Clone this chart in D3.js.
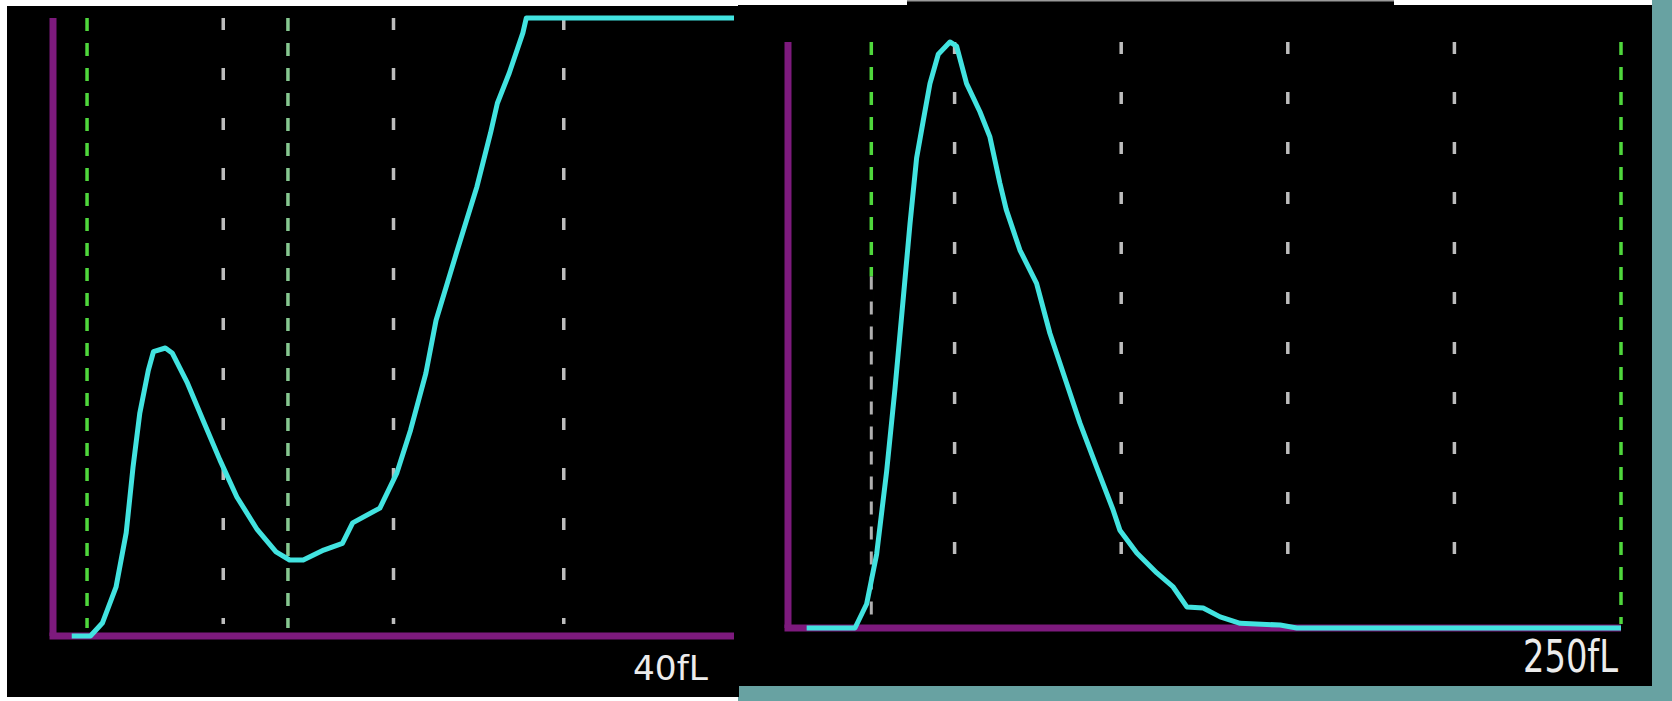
<!DOCTYPE html>
<html>
<head>
<meta charset="utf-8">
<script src="https://cdnjs.cloudflare.com/ajax/libs/d3/7.8.5/d3.min.js"></script>
<style>
  body { margin: 0; background: #fff; }
  svg { display: block; }
</style>
</head>
<body>
<div id="container"></div>
<script>
// PLT histogram (0-40 fL)
const pltSize  = [1.1, 2.2, 2.9, 3.7, 4.3, 4.7, 5.1, 5.6, 5.9, 6.6, 7.0, 7.9, 8.8, 9.8, 10.8, 12.0, 13.1, 13.9, 14.7, 15.9, 17.0, 17.6, 19.2, 20.2, 21.0, 21.9, 22.5, 23.7, 24.9, 25.7, 26.1, 26.8, 27.6, 27.8, 40];
const pltCount = [0, 0, 2.1, 7.9, 16.7, 27.3, 36.1, 43.0, 46.0, 46.6, 45.8, 40.9, 35.0, 28.5, 22.5, 17.2, 13.6, 12.3, 12.3, 13.9, 15.0, 18.3, 20.7, 26.4, 33.3, 42.5, 51.1, 62.0, 72.7, 81.4, 86.2, 91.1, 97.6, 100, 100];
const pltGrid = [10, 20, 30];
const pltDisc = [2, 13.8];
const pltLabel = "40fL";

// RBC histogram (0-250 fL)
const rbcSize  = [5.6, 20.1, 23.6, 26.6, 29.6, 32.1, 34.6, 36.6, 38.6, 40.6, 42.6, 45.1, 48.6, 50.6, 53.6, 57.6, 60.6, 63.6, 65.5, 69.6, 74.6, 78.6, 83.6, 87.6, 92.6, 97.6, 99.6, 104.7, 110.7, 115.6, 119.7, 124.6, 129.7, 135.7, 147.7, 152.7, 250];
const rbcCount = [0, 0, 4.1, 12.6, 26.7, 40.8, 56.3, 68.9, 80.2, 86.6, 92.9, 97.9, 100, 99.3, 92.9, 88.1, 83.8, 75.9, 71.4, 64.5, 58.8, 50.3, 41.8, 35.0, 27.5, 20.1, 16.7, 12.8, 9.4, 7.0, 3.6, 3.4, 1.9, 0.8, 0.5, 0, 0];
const rbcGrid = [50, 100, 150, 200];
const rbcDisc = [25, 250];
const rbcLabel = "250fL";

const w = 1672, h = 701;
const svg = d3.select("#container").append("svg").attr("width", w).attr("height", h);

// photo frame / backgrounds
svg.append("rect").attr("x", 0).attr("y", 0).attr("width", w).attr("height", h).attr("fill", "#ffffff");
svg.append("rect").attr("x", 1652).attr("y", 0).attr("width", 20).attr("height", h).attr("fill", "#68a2a2");
svg.append("rect").attr("x", 738).attr("y", 686).attr("width", w - 738).attr("height", 15).attr("fill", "#68a2a2");
svg.append("rect").attr("x", 7).attr("y", 6).attr("width", 732).attr("height", 691).attr("fill", "#000");
svg.append("rect").attr("x", 738).attr("y", 5).attr("width", 914).attr("height", 681).attr("fill", "#000");
svg.append("rect").attr("x", 907).attr("y", 0).attr("width", 487).attr("height", 6).attr("fill", "#000");
svg.append("rect").attr("x", 907).attr("y", 0).attr("width", 487).attr("height", 1.5).attr("fill", "#9a9a9a");

const cyan = "#42e3e0", purple = "#7d1a7d", grey = "#bdbdbd", green = "#4fd83c";

function histogram(cfg) {
    const x = d3.scaleLinear().domain(cfg.xDomain).range(cfg.xRange);
    const y = d3.scaleLinear().domain([0, 100]).range(cfg.yRange);
    const g = svg.append("g");

    // white dashed grid
    g.selectAll(".grid").data(cfg.grid).enter().append("line")
        .attr("class", "grid")
        .attr("x1", d => x(d)).attr("x2", d => x(d))
        .attr("y1", y(100)).attr("y2", cfg.gridBottom)
        .attr("stroke", grey).attr("stroke-width", 3.5)
        .attr("stroke-dasharray", "12,38");

    // discriminator lines
    g.selectAll(".disc").data(cfg.disc).enter().append("line")
        .attr("class", "disc")
        .attr("x1", d => x(d)).attr("x2", d => x(d))
        .attr("y1", y(100)).attr("y2", cfg.discBottom)
        .attr("stroke", (d, i) => cfg.discColors[i]).attr("stroke-width", 3.5)
        .attr("stroke-dasharray", "13,12");

    // axes
    g.append("line")
        .attr("x1", x(0)).attr("x2", x(0))
        .attr("y1", y(100)).attr("y2", y(0))
        .attr("stroke", purple).attr("stroke-width", 7);
    g.append("line")
        .attr("x1", x(0) - 3.5).attr("x2", x(cfg.xDomain[1]))
        .attr("y1", y(0)).attr("y2", y(0))
        .attr("stroke", purple).attr("stroke-width", 7);

    const line = d3.line().x(d => x(d[0])).y(d => y(d[1]));
    g.append("path")
        .datum(d3.zip(cfg.size, cfg.count))
        .attr("d", line)
        .attr("fill", "none")
        .attr("stroke", cyan)
        .attr("stroke-width", 5)
        .attr("stroke-linejoin", "round");

    g.append("text")
        .attr("x", cfg.labelX).attr("y", cfg.labelY)
        .attr("font-family", "DejaVu Sans")
        .attr("font-size", cfg.labelSize)
        .attr("fill", "#ececec")
        .attr("textLength", cfg.labelLen)
        .attr("lengthAdjust", "spacingAndGlyphs")
        .text(cfg.label);
    return { x, y, g };
}

histogram({
    xDomain: [0, 40], xRange: [53, 734], yRange: [636, 18],
    size: pltSize, count: pltCount, grid: pltGrid, disc: pltDisc,
    discColors: [green, "#86c890"], gridBottom: 624, discBottom: 628,
    label: pltLabel, labelX: 633, labelY: 680, labelSize: 34, labelLen: 75
});

const rbc = histogram({
    xDomain: [0, 250], xRange: [788, 1621], yRange: [628, 42],
    size: rbcSize, count: rbcCount, grid: rbcGrid, disc: rbcDisc,
    discColors: [green, green], gridBottom: 592, discBottom: 624,
    label: rbcLabel, labelX: 1523, labelY: 672, labelSize: 44, labelLen: 95
});

// lower part of the 25 fL discriminator shows grey in the photo
rbc.g.insert("line", "path")
    .attr("x1", rbc.x(rbcDisc[0])).attr("x2", rbc.x(rbcDisc[0]))
    .attr("y1", rbc.y(60)).attr("y2", 624)
    .attr("stroke", "#000").attr("stroke-width", 5);
rbc.g.insert("line", "path")
    .attr("x1", rbc.x(rbcDisc[0])).attr("x2", rbc.x(rbcDisc[0]))
    .attr("y1", rbc.y(60)).attr("y2", 624)
    .attr("stroke", "#b0b0b0").attr("stroke-width", 3)
    .attr("stroke-dasharray", "13,12");
</script>
</body>
</html>
